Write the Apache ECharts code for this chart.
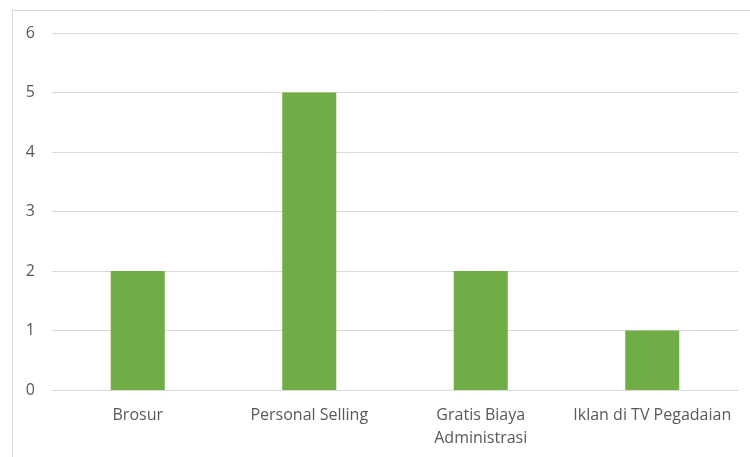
<!DOCTYPE html>
<html><head><meta charset="utf-8">
<script src="https://cdn.jsdelivr.net/npm/echarts@6/dist/echarts.min.js"></script>
<style>html,body{margin:0;padding:0;background:#fff}#c{width:750px;height:457px}</style>
</head><body><div id="c"></div>
<script>
const categories = ['Brosur', 'Personal Selling', 'Gratis Biaya\nAdministrasi', 'Iklan di TV Pegadaian'];
const values = [2, 5, 2, 1];
const yTicks = { min: 0, max: 6, interval: 1 };
const font = '"Open Sans", sans-serif';
const chart = echarts.init(document.getElementById('c'));
chart.setOption({
  animation: false,
  backgroundColor: '#fff',
  graphic: [{
    type: 'rect', z: -1, silent: true,
    shape: { x: 12.5, y: 10.5, width: 760, height: 470 },
    style: { fill: '#fff', stroke: '#d9d9d9', lineWidth: 1 }
  }],
  grid: { left: 52, right: 12, top: 33, bottom: 67, containLabel: false },
  xAxis: {
    type: 'category', data: categories,
    axisLine: { show: true, lineStyle: { color: '#d9d9d9', width: 1 } },
    axisTick: { show: false },
    axisLabel: { color: '#595959', fontSize: 16, fontFamily: font, margin: 14, lineHeight: 23, interval: 0 }
  },
  yAxis: {
    type: 'value', min: yTicks.min, max: yTicks.max, interval: yTicks.interval,
    axisLine: { show: false }, axisTick: { show: false },
    splitLine: { lineStyle: { color: '#d9d9d9', width: 1 } },
    axisLabel: { color: '#595959', fontSize: 16, fontFamily: font, margin: 17 }
  },
  series: [{
    type: 'bar', data: values, barWidth: '31.5%',
    itemStyle: { color: '#70AD47' }
  }]
});
</script></body></html>
